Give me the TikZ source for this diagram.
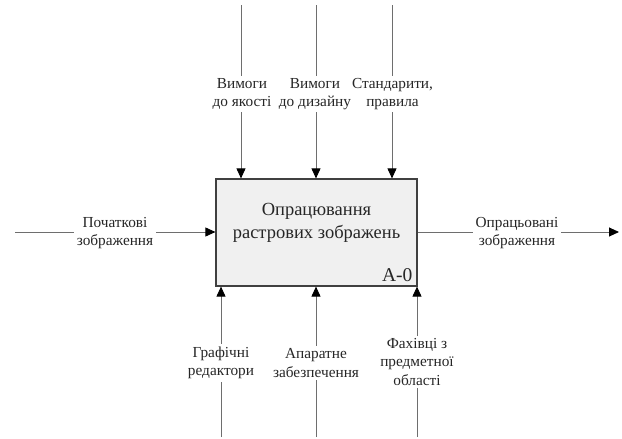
\documentclass[tikz,border=0pt]{standalone}
\usepackage{fontspec}
\setmainfont{Liberation Serif}
\usetikzlibrary{arrows.meta}
\definecolor{linegray}{HTML}{6E6E6E}
\definecolor{boxfill}{HTML}{F0F0F0}
\definecolor{boxdraw}{HTML}{404040}
\definecolor{txt}{HTML}{262626}
\tikzset{
  arr/.style={draw=linegray, line width=0.9pt, -{Triangle[length=10pt,width=9pt,color=black]}},
  lbl/.style={fill=white, text=txt, align=center, inner xsep=0.4pt, inner ysep=2.5pt,
    font=\fontsize{15.3}{18.5}\selectfont},
  mainbox/.style={draw=boxdraw, fill=boxfill, line width=1.2pt, minimum width=201pt,
    minimum height=107pt, inner sep=0pt},
}
\begin{document}
\begin{tikzpicture}[x=1pt,y=-1pt]
\useasboundingbox (0,0) rectangle (622,439);
\node[mainbox] (box) at (316.5,232.5) {};
\node[text=txt, align=center, font=\fontsize{18.5}{23}\selectfont] (title) at (316.5,223) {Опрацювання\\растрових зображень};
\node[text=txt, anchor=south east, inner sep=0pt, font=\fontsize{19.5}{22}\selectfont] (code) at ([xshift=-5pt,yshift=5pt]box.south east) {A-0};
% top controls
\coordinate (t1) at (241,5);
\coordinate (t2) at (316,5);
\coordinate (t3) at (392,5);
\foreach \c in {t1,t2,t3} \draw[arr] (\c) -- (\c |- box.north);
\node[lbl] (l1) at (242,94) {Вимоги\\до якості};
\node[lbl] (l2) at (315,94) {Вимоги\\до дизайну};
\node[lbl] (l3) at (392.5,94) {Стандарити,\\правила};
% bottom mechanisms
\coordinate (b1) at (221,437);
\coordinate (b2) at (316,437);
\coordinate (b3) at (417,437);
\foreach \c in {b1,b2,b3} \draw[arr] (\c) -- (\c |- box.south);
\node[lbl] (m1) at (221,363) {Графічні\\редактори};
\node[lbl] (m2) at (316,363) {Апаратне\\забезпечення};
\node[lbl] (m3) at (417,362) {Фахівці з\\предметної\\області};
% input
\coordinate (in) at (15,232);
\draw[arr] (in) -- (in -| box.west);
\node[lbl, inner xsep=3pt] (il) at (115,233) {Початкові\\зображення};
% output
\coordinate (out) at (619,232);
\draw[arr] (out -| box.east) -- (out);
\node[lbl, inner xsep=3pt] (ol) at (517,233) {Опрацьовані\\зображення};
\end{tikzpicture}
\end{document}
